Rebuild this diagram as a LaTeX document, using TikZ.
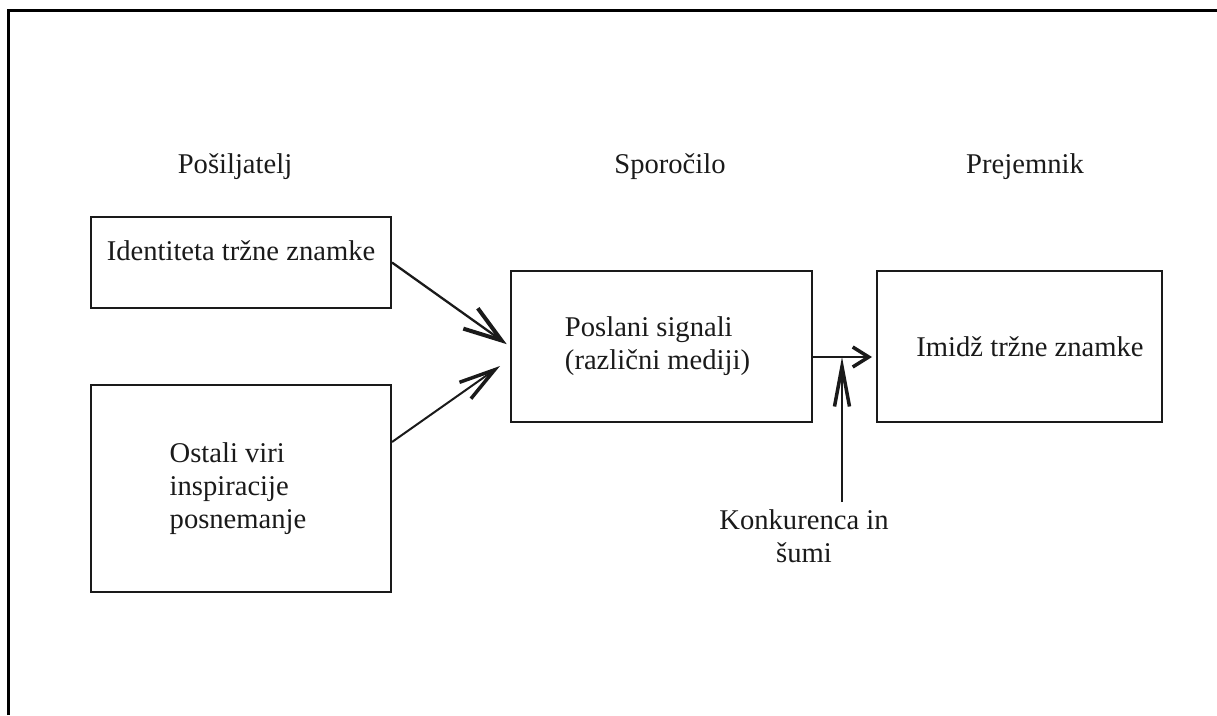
\documentclass[tikz,border=0pt]{standalone}
\usepackage{fontspec}
\setmainfont{Liberation Serif}
\usetikzlibrary{arrows.meta,calc}
\definecolor{ink}{HTML}{1A1A1A}
\tikzset{
  box/.style={draw=ink, line width=2pt, inner sep=0pt, fill=none},
  txt/.style={text=ink, inner sep=0pt, font=\fontsize{28.6}{33}\selectfont},
  arr/.style={draw=ink, line width=2pt},
}
\begin{document}
\begin{tikzpicture}[x=1pt,y=-1pt]
\useasboundingbox (0,0) rectangle (1217,715);
% outer frame (only top and left edges fall inside the page)
\draw[black, line width=3pt] (8,715) -- (8,10) -- (1217,10);

% column headings
\node[txt, anchor=base] (hSend) at (235,173) {Pošiljatelj};
\node[txt, anchor=base] (hMsg)  at (670,173) {Sporočilo};
\node[txt, anchor=base] (hRecv) at (1025,173) {Prejemnik};

% boxes
\node[box, minimum width=300pt, minimum height=91pt]  (b1) at (241,262.5) {};
\node[box, minimum width=300pt, minimum height=207pt] (b2) at (241,488.5) {};
\node[box, minimum width=301pt, minimum height=151pt] (b3) at (661.5,346.5) {};
\node[box, minimum width=285pt, minimum height=151pt] (b4) at (1019.5,346.5) {};

% box texts
\node[txt, anchor=base] (t1) at (241,260) {Identiteta tržne znamke};
\node[txt, align=left] (t2) at ($(b2.center)+(-3,0)$) {Ostali viri\\inspiracije\\posnemanje};
\node[txt, align=left] (t3) at ($(b3.center)+(-4,0)$) {Poslani signali\\(različni mediji)};
\node[txt, anchor=base] (t4) at (1030,356) {Imidž tržne znamke};

% noise label
\node[txt, align=center, anchor=north] (tn) at (804,509) {Konkurenca in\\šumi};
\coordinate (noise) at (842,502);

% connectors
\draw[arr, line width=2.3pt, -{Straight Barb[length=38pt,width=25pt,line width=4pt]}, shorten >=4pt]
  (b1.east) -- (b3.west);
\draw[arr, -{Straight Barb[length=36pt,width=20pt,line width=3.5pt]}]
  ($(b2.north east)+(0,58)$) -- ($(b3.west)+(-10,19.5)$);
\draw[arr, -{Straight Barb[length=16pt,width=20pt,line width=3.5pt]}, shorten >=4pt]
  ($(b3.east)+(0,10.5)$) coordinate (mid) -- ($(b4.west)+(0,10.5)$);
\draw[arr, -{Straight Barb[length=40pt,width=15pt,line width=3.5pt]}]
  (noise) -- (noise |- mid);
\end{tikzpicture}
\end{document}
